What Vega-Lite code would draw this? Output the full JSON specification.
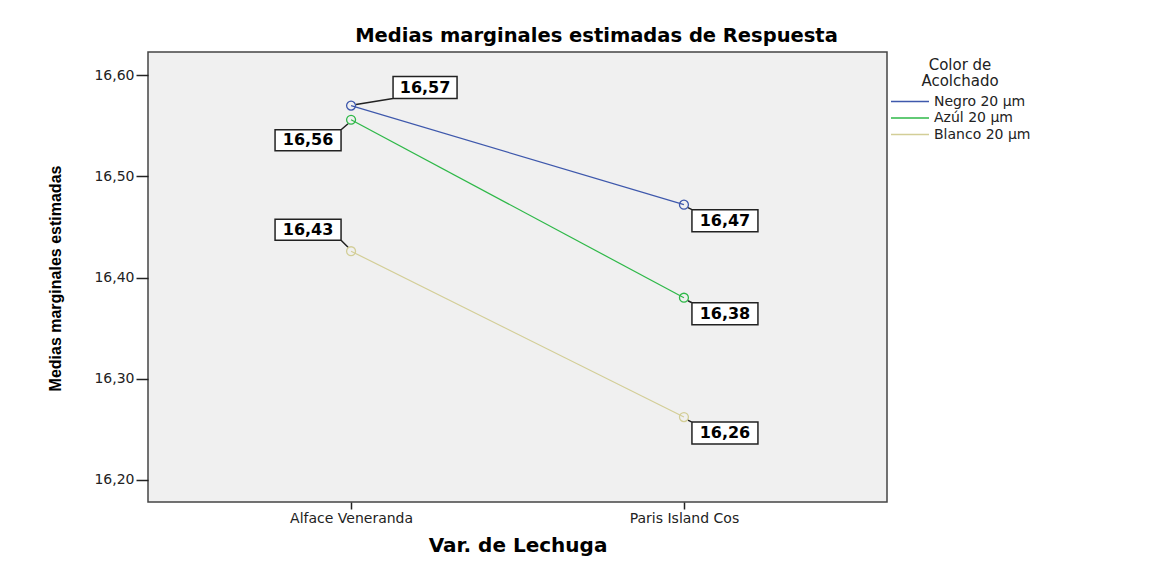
{
  "$schema": "https://vega.github.io/schema/vega-lite/v6.json",
  "autosize": {"type": "none"},
  "width": 739,
  "height": 450,
  "padding": {"left": 148, "top": 52, "right": 282, "bottom": 59},
  "background": "white",
  "title": {
    "text": "Medias marginales estimadas de Respuesta",
    "font": "DejaVu Sans",
    "fontSize": 19.5,
    "fontWeight": "bold",
    "color": "#000000",
    "anchor": "middle",
    "frame": "group",
    "dx": 79,
    "offset": 6
  },
  "data": {
    "values": [
      {"Variedad": "Alface Veneranda", "Color": "Negro 20 µm", "Media": 16.570},
      {"Variedad": "Paris Island Cos", "Color": "Negro 20 µm", "Media": 16.472},
      {"Variedad": "Alface Veneranda", "Color": "Azúl 20 µm", "Media": 16.556},
      {"Variedad": "Paris Island Cos", "Color": "Azúl 20 µm", "Media": 16.380},
      {"Variedad": "Alface Veneranda", "Color": "Blanco 20 µm", "Media": 16.426},
      {"Variedad": "Paris Island Cos", "Color": "Blanco 20 µm", "Media": 16.262}
    ]
  },
  "encoding": {
    "x": {
      "field": "Variedad",
      "type": "nominal",
      "sort": ["Alface Veneranda", "Paris Island Cos"],
      "scale": {"type": "point", "padding": 0.61},
      "axis": {
        "title": "Var. de Lechuga",
        "titleFont": "DejaVu Sans",
        "titleFontSize": 20,
        "titleFontWeight": "bold",
        "titleColor": "#000000",
        "titleBaseline": "alphabetic",
        "titleY": 49,
        "labelAngle": 0,
        "labelFont": "DejaVu Sans",
        "labelFontSize": 14,
        "labelColor": "#222222",
        "labelPadding": 2,
        "tickSize": 7,
        "tickWidth": 1.5,
        "tickColor": "#222222",
        "domain": false,
        "grid": false
      }
    },
    "y": {
      "field": "Media",
      "type": "quantitative",
      "scale": {"domain": [16.178, 16.623], "nice": false, "zero": false},
      "axis": {
        "title": "Medias marginales estimadas",
        "titleFont": "Liberation Sans",
        "titleFontSize": 16,
        "titleFontWeight": "bold",
        "titleColor": "#000000",
        "titleX": -85,
        "titleY": 226,
        "titleAngle": 270,
        "titleBaseline": "bottom",
        "values": [16.2, 16.3, 16.4, 16.5, 16.6],
        "format": ".2f",
        "labelFont": "DejaVu Sans",
        "labelFontSize": 14,
        "labelColor": "#222222",
        "labelPadding": 2,
        "tickSize": 12,
        "tickWidth": 1.5,
        "tickColor": "#222222",
        "domain": false,
        "grid": false
      }
    }
  },
  "layer": [
    {
      "mark": {"type": "line", "strokeWidth": 1.2},
      "encoding": {
        "color": {
          "field": "Color",
          "type": "nominal",
          "scale": {
            "domain": ["Negro 20 µm", "Azúl 20 µm", "Blanco 20 µm"],
            "range": ["#3E58AC", "#2EB848", "#D3CE97"]
          },
          "legend": {
            "title": ["Color de", "Acolchado"],
            "orient": "none",
            "legendX": 742,
            "legendY": 6,
            "padding": 0,
            "titleFont": "DejaVu Sans",
            "titleFontSize": 15,
            "titleFontWeight": "normal",
            "titleColor": "#222222",
            "titleLineHeight": 16,
            "titleAnchor": "middle",
            "titleAlign": "center",
            "titlePadding": 6,
            "labelFont": "DejaVu Sans",
            "labelFontSize": 14,
            "labelColor": "#222222",
            "labelOffset": 4,
            "symbolType": "stroke",
            "symbolSize": 1444,
            "symbolStrokeWidth": 1.5,
            "clipHeight": 13,
            "rowPadding": 1.5
          }
        }
      }
    },
    {
      "transform": [{"filter": {"and": [{"field": "Variedad", "equal": "Alface Veneranda"}, {"field": "Color", "equal": "Negro 20 µm"}]}}],
      "mark": {"type": "point", "shape": "M42,-29H106V-7H42Z M5,-1L42,-7", "size": 4, "filled": true, "fill": "white", "stroke": "#222222", "strokeWidth": 1.5, "opacity": 1}
    },
    {
      "transform": [{"filter": {"and": [{"field": "Variedad", "equal": "Alface Veneranda"}, {"field": "Color", "equal": "Azúl 20 µm"}]}}],
      "mark": {"type": "point", "shape": "M-76,10H-10V31H-76Z M-3,4L-10,10", "size": 4, "filled": true, "fill": "white", "stroke": "#222222", "strokeWidth": 1.5, "opacity": 1}
    },
    {
      "transform": [{"filter": {"and": [{"field": "Variedad", "equal": "Alface Veneranda"}, {"field": "Color", "equal": "Blanco 20 µm"}]}}],
      "mark": {"type": "point", "shape": "M-76,-32H-10V-11H-76Z M-10,-11L-3,-4", "size": 4, "filled": true, "fill": "white", "stroke": "#222222", "strokeWidth": 1.5, "opacity": 1}
    },
    {
      "transform": [{"filter": {"field": "Variedad", "equal": "Paris Island Cos"}}],
      "mark": {"type": "point", "shape": "M8,5H74V27H8Z M4,3L8,5", "size": 4, "filled": true, "fill": "white", "stroke": "#222222", "strokeWidth": 1.5, "opacity": 1}
    },
    {
      "mark": {"type": "point", "shape": "circle", "size": 80, "filled": false, "strokeWidth": 1.3, "opacity": 1},
      "encoding": {
        "color": {"field": "Color", "type": "nominal", "legend": null}
      }
    },
    {
      "transform": [{"filter": {"and": [{"field": "Variedad", "equal": "Alface Veneranda"}, {"field": "Color", "equal": "Negro 20 µm"}]}}],
      "mark": {"type": "text", "dx": 74, "dy": -18, "align": "center", "baseline": "middle", "font": "DejaVu Sans", "fontSize": 16, "fontWeight": "bold", "color": "#000000"},
      "encoding": {"text": {"field": "Media", "type": "quantitative", "format": ".2f"}}
    },
    {
      "transform": [{"filter": {"and": [{"field": "Variedad", "equal": "Alface Veneranda"}, {"field": "Color", "equal": "Azúl 20 µm"}]}}],
      "mark": {"type": "text", "dx": -43, "dy": 20.5, "align": "center", "baseline": "middle", "font": "DejaVu Sans", "fontSize": 16, "fontWeight": "bold", "color": "#000000"},
      "encoding": {"text": {"field": "Media", "type": "quantitative", "format": ".2f"}}
    },
    {
      "transform": [{"filter": {"and": [{"field": "Variedad", "equal": "Alface Veneranda"}, {"field": "Color", "equal": "Blanco 20 µm"}]}}],
      "mark": {"type": "text", "dx": -43, "dy": -21.5, "align": "center", "baseline": "middle", "font": "DejaVu Sans", "fontSize": 16, "fontWeight": "bold", "color": "#000000"},
      "encoding": {"text": {"field": "Media", "type": "quantitative", "format": ".2f"}}
    },
    {
      "transform": [{"filter": {"field": "Variedad", "equal": "Paris Island Cos"}}],
      "mark": {"type": "text", "dx": 41, "dy": 16, "align": "center", "baseline": "middle", "font": "DejaVu Sans", "fontSize": 16, "fontWeight": "bold", "color": "#000000"},
      "encoding": {"text": {"field": "Media", "type": "quantitative", "format": ".2f"}}
    }
  ],
  "config": {
    "locale": {"number": {"decimal": ",", "thousands": ".", "grouping": [3], "currency": ["", " €"]}},
    "view": {"fill": "#F0F0F0", "stroke": "#444444", "strokeWidth": 1.5}
  }
}
